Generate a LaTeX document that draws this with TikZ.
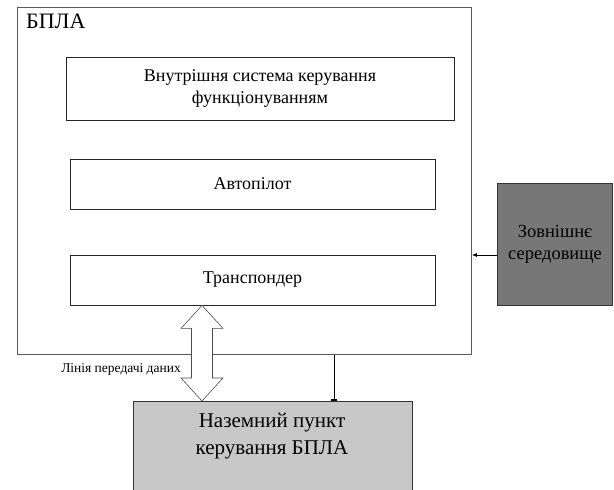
\documentclass[tikz,border=0pt]{standalone}
\usepackage{fontspec}
\setmainfont{Liberation Serif}
\usetikzlibrary{calc,arrows.meta}
\definecolor{envgray}{HTML}{777777}
\definecolor{gndgray}{HTML}{C8C8C8}
\tikzset{
  box/.style={draw=black!85, line width=0.8pt, fill=white, inner sep=0pt, align=center, font=\rmfamily\fontsize{18}{22}\selectfont},
  conn/.style={draw=black, line width=0.8pt},
}
\begin{document}
\begin{tikzpicture}[x=1pt,y=-1pt]
\useasboundingbox (0,0) rectangle (614,490);
% outer UAV box
\node[draw=black!65, line width=0.8pt, minimum width=454pt, minimum height=347pt, inner sep=0pt, anchor=north west] (uav) at (17,7) {};
\node[anchor=north west, inner sep=0pt, font=\rmfamily\fontsize{22}{26}\selectfont] (uavlbl) at (26,14) {БПЛА};
% inner boxes
\node[box, minimum width=388pt, minimum height=63pt] (ctrl) at (260,88.5) {Внутрішня система керування\\функціонуванням};
\node[box, minimum width=365pt, minimum height=50pt] (ap) at (252.5,184) {Автопілот};
\node[box, minimum width=365pt, minimum height=50pt] (tr) at (252.5,280) {Транспондер};
% environment
\node[draw=black!80, line width=0.8pt, fill=envgray, minimum width=115pt, minimum height=122pt, inner sep=0pt, align=center, font=\rmfamily\fontsize{18.5}{22}\selectfont] (env) at (555,244) {Зовнішнє\\середовище};
% ground station
\node[draw=black!80, line width=0.8pt, fill=gndgray, minimum width=279pt, minimum height=100pt, inner sep=0pt, anchor=north west] (gnd) at (133,401) {};
\node[inner sep=0pt, align=center, font=\rmfamily\fontsize{21}{27}\selectfont] (gndlbl) at (272,436) {Наземний пункт\\керування БПЛА};
% env -> uav arrow
\coordinate (envin) at (uav.east |- 0,255);
\draw[conn, -{Latex[length=5pt,width=4pt]}] (env.west |- envin) -- (envin);
% uav -> ground
\coordinate (dn) at (334,0);
\draw[conn, -{Rectangle[length=2.5pt,width=6pt]}] (uav.south -| dn) -- (gnd.north -| dn);
% data link double arrow
\coordinate (dx) at (202,0);
\coordinate (dt) at (tr.south -| dx);
\coordinate (db) at (gnd.north -| dx);
\draw[draw=black!70, line width=0.6pt, fill=white]
  (dt) -- ($(dt)+(21,23)$) -- ($(dt)+(10.5,23)$) -- ($(db)+(10.5,-23)$) -- ($(db)+(21,-23)$) -- (db)
  -- ($(db)+(-21,-23)$) -- ($(db)+(-10.5,-23)$) -- ($(dt)+(-10.5,23)$) -- ($(dt)+(-21,23)$) -- cycle;
\node[anchor=east, inner sep=0pt, font=\rmfamily\fontsize{13.5}{16}\selectfont] (linklbl) at (181,369) {Лінія передачі даних};
\end{tikzpicture}
\end{document}
